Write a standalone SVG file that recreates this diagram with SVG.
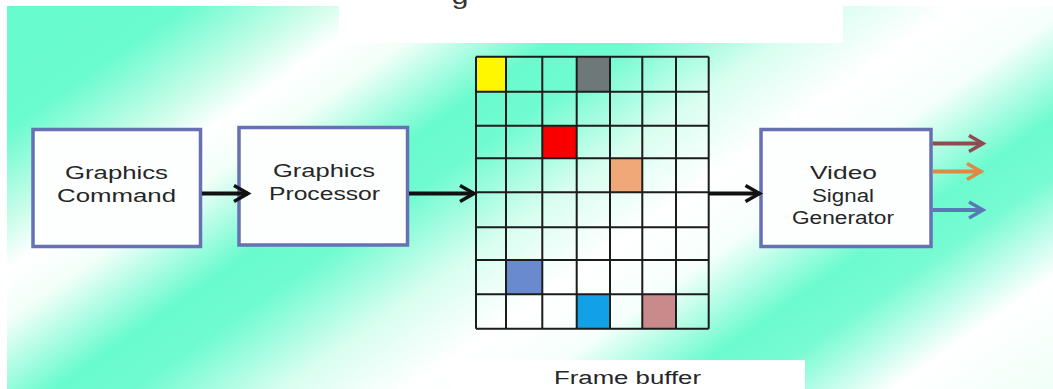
<svg xmlns="http://www.w3.org/2000/svg" width="1053" height="389" viewBox="0 0 1053 389">
  <style>
    .box { fill: #fdfefe; stroke: #6670b2; stroke-width: 3.5; }
    .lbl { font-family: "Liberation Sans", Arial, sans-serif; font-size: 17.5px; fill: #262626; text-anchor: middle; }
    .grid { fill: none; stroke: #1c1c1c; stroke-width: 2; }
    .wire { fill: none; stroke-width: 4; }
    .k { stroke: #111111; }
    .brown { stroke: #8c4c50; }
    .orange { stroke: #dc8a44; }
    .blue { stroke: #5a78b8; }
  </style>
  <defs>
    <!-- diagonal aqua / white banding behind the whole figure -->
    <linearGradient id="bg" gradientUnits="userSpaceOnUse" x1="0" y1="0" x2="528" y2="756">
      <stop offset="0" stop-color="#66fbcd"/>
      <stop offset="0.12" stop-color="#6afbce"/>
      <stop offset="0.2" stop-color="#c8fde9"/>
      <stop offset="0.245" stop-color="#ffffff"/>
      <stop offset="0.29" stop-color="#f2fff9"/>
      <stop offset="0.38" stop-color="#68fbcd"/>
      <stop offset="0.43" stop-color="#70fbd0"/>
      <stop offset="0.52" stop-color="#d8fef0"/>
      <stop offset="0.6" stop-color="#ffffff"/>
      <stop offset="0.67" stop-color="#f6fffb"/>
      <stop offset="0.76" stop-color="#6cfbce"/>
      <stop offset="0.81" stop-color="#78fbd2"/>
      <stop offset="0.9" stop-color="#ffffff"/>
      <stop offset="1" stop-color="#f0fff8"/>
    </linearGradient>
    <!-- open chevron arrowheads, one per stroke colour -->
    <marker id="head-k" markerUnits="userSpaceOnUse" markerWidth="18" markerHeight="20" refX="14" refY="8" orient="auto" overflow="visible">
      <path d="M0,0 L14,8 L0,16" fill="none" stroke="#111111" stroke-width="3.5"/>
    </marker>
    <marker id="head-brown" markerUnits="userSpaceOnUse" markerWidth="18" markerHeight="20" refX="14" refY="8" orient="auto" overflow="visible">
      <path d="M0,0 L14,8 L0,16" fill="none" stroke="#8c4c50" stroke-width="3.5"/>
    </marker>
    <marker id="head-orange" markerUnits="userSpaceOnUse" markerWidth="18" markerHeight="20" refX="14" refY="8" orient="auto" overflow="visible">
      <path d="M0,0 L14,8 L0,16" fill="none" stroke="#dc8a44" stroke-width="3.5"/>
    </marker>
    <marker id="head-blue" markerUnits="userSpaceOnUse" markerWidth="18" markerHeight="20" refX="14" refY="8" orient="auto" overflow="visible">
      <path d="M0,0 L14,8 L0,16" fill="none" stroke="#5a78b8" stroke-width="3.5"/>
    </marker>
  </defs>

  <!-- backdrop -->
  <rect x="0" y="0" width="1053" height="389" fill="#ffffff"/>
  <rect x="7" y="6" width="1046" height="383" fill="url(#bg)"/>
  <rect x="339" y="0" width="504" height="43" fill="#ffffff"/>
  <!-- tail of the heading line, which runs off the top edge -->
  <text x="460" y="4" font-family="'Liberation Sans', Arial, sans-serif" font-size="24" fill="#333333" text-anchor="middle" textLength="17" lengthAdjust="spacingAndGlyphs">g</text>
  <rect x="450" y="360" width="355" height="29" fill="#ffffff"/>

  <g id="node-graphics-command">
    <rect class="box" x="33" y="129.5" width="167.5" height="117"/>
    <text class="lbl" x="116.5" y="179" textLength="103" lengthAdjust="spacingAndGlyphs">Graphics</text>
    <text class="lbl" x="116.5" y="201.5" textLength="119" lengthAdjust="spacingAndGlyphs">Command</text>
  </g>

  <g id="node-graphics-processor">
    <rect class="box" x="239" y="127.5" width="168.5" height="117.5"/>
    <text class="lbl" x="324" y="176.5" textLength="102" lengthAdjust="spacingAndGlyphs">Graphics</text>
    <text class="lbl" x="324.5" y="199.5" textLength="111" lengthAdjust="spacingAndGlyphs">Processor</text>
  </g>

  <g id="node-frame-buffer">
    <!-- lit pixels -->
    <rect x="476" y="56.7" width="30" height="35" fill="#fdf800"/>
    <rect x="576.7" y="56.7" width="33.3" height="35" fill="#6f7878"/>
    <rect x="542.3" y="125.7" width="34.4" height="32.6" fill="#f80000"/>
    <rect x="610" y="158.3" width="32.3" height="34" fill="#f0a878"/>
    <rect x="506" y="260" width="36.3" height="34.3" fill="#6a8ad0"/>
    <rect x="576.7" y="294.3" width="33.3" height="34.4" fill="#12a0e6"/>
    <rect x="642.3" y="294.3" width="33.7" height="34.4" fill="#c88a8a"/>
    <!-- 7 x 8 cell grid -->
    <path class="grid" d="M476,56.7 V328.7 M506,56.7 V328.7 M542.3,56.7 V328.7 M576.7,56.7 V328.7 M610,56.7 V328.7 M642.3,56.7 V328.7 M676,56.7 V328.7 M708.7,56.7 V328.7
      M476,56.7 H708.7 M476,91.7 H708.7 M476,125.7 H708.7 M476,158.3 H708.7 M476,192.3 H708.7 M476,227.3 H708.7 M476,260 H708.7 M476,294.3 H708.7 M476,328.7 H708.7"/>
    <text class="lbl" x="627.5" y="384" textLength="147" lengthAdjust="spacingAndGlyphs" style="font-size:18px">Frame buffer</text>
  </g>

  <g id="node-video-signal-generator">
    <rect class="box" x="761" y="129.5" width="170" height="117"/>
    <text class="lbl" x="843.5" y="179" textLength="67" lengthAdjust="spacingAndGlyphs">Video</text>
    <text class="lbl" x="843" y="201.5" textLength="62" lengthAdjust="spacingAndGlyphs">Signal</text>
    <text class="lbl" x="843" y="223.5" textLength="102" lengthAdjust="spacingAndGlyphs">Generator</text>
  </g>

  <g id="connectors">
    <line class="wire k" x1="202" y1="193.5" x2="248" y2="193.5" marker-end="url(#head-k)"/>
    <line class="wire k" x1="409" y1="193.5" x2="474" y2="193.5" marker-end="url(#head-k)"/>
    <line class="wire k" x1="709" y1="193.5" x2="759.5" y2="193.5" marker-end="url(#head-k)"/>
    <line class="wire brown" x1="932.5" y1="143.5" x2="983" y2="143.5" marker-end="url(#head-brown)"/>
    <line class="wire orange" x1="932.5" y1="171.5" x2="981" y2="171.5" marker-end="url(#head-orange)"/>
    <line class="wire blue" x1="932.5" y1="210" x2="983" y2="210" marker-end="url(#head-blue)"/>
  </g>
</svg>
